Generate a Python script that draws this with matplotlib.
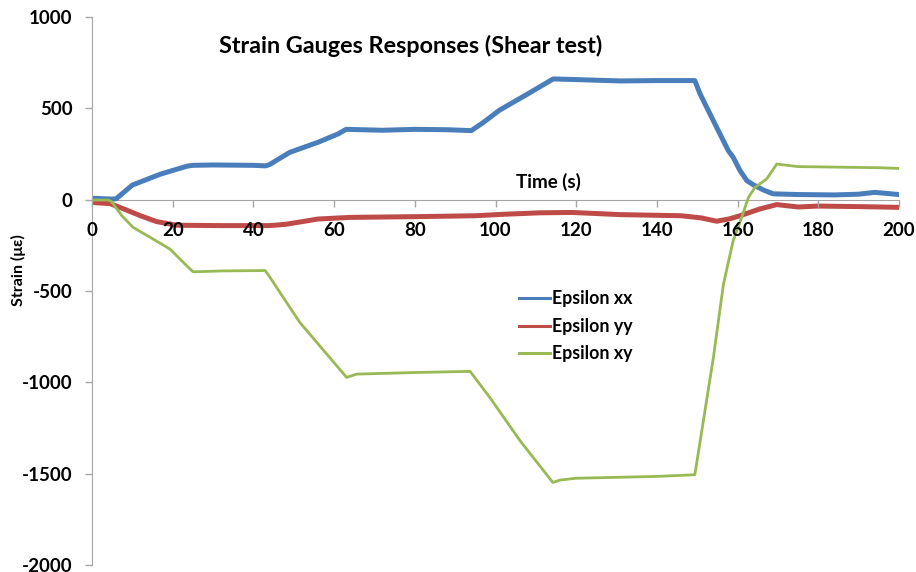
import matplotlib
matplotlib.use("Agg")
import matplotlib.pyplot as plt

plt.rcParams['font.family'] = ['Lato', 'DejaVu Sans']
plt.rcParams['font.weight'] = 'bold'

# ---- data ----
time_xx = [0, 5, 6, 10, 17, 23.5, 25, 30, 40, 43, 44, 49, 56, 61, 63, 72, 80, 88, 94, 97,
           101, 108, 114.3, 119, 131, 140, 149.4, 150.7, 154.8, 157.7, 158.9, 160.6, 162.3,
           164, 166.4, 168.8, 175, 184, 190, 194, 200]
eps_xx = [8, 3, 5, 80, 140, 183, 188, 190, 188, 185, 192, 259, 314, 360, 385, 380, 385, 383,
          378, 423, 490, 579, 661, 658, 650, 652, 652, 579, 396, 268, 232, 159, 104,
          80, 53, 32, 28, 26, 30, 40, 28]

time_yy = [0, 4.5, 7.8, 12, 16, 21, 32, 41, 44, 48, 56, 64, 80, 95, 102, 111, 119, 131, 146,
           151, 154.8, 158, 160.6, 165.5, 169.7, 175, 180, 190, 200]
eps_yy = [-15, -22, -50, -88, -120, -140, -142, -142, -142, -135, -106, -97, -93, -88, -80,
          -72, -70, -82, -88, -100, -118, -105, -88, -51, -27, -40, -35, -38, -42]

time_xy = [0, 4, 4.8, 7.4, 10.2, 14.4, 19.3, 24.3, 25.1, 32.5, 42.9, 44.1, 51.5, 63.1, 65.6,
           80.5, 93.7, 98.6, 106.1, 114.2, 116, 120, 130, 140, 149.4, 154, 156.5, 158.9, 161,
           162.7, 164.3, 167.2, 169.7, 175, 185, 195, 200]
eps_xy = [-2, -2, -10, -88, -152, -206, -270, -380, -395, -390, -388, -425, -672, -973, -955,
          -946, -940, -1083, -1320, -1548, -1535, -1525, -1520, -1515, -1506, -864, -462, -225,
          -97, 13, 67, 113, 195, 181, 178, 175, 171]

series_names = ['Epsilon xx', 'Epsilon yy', 'Epsilon xy']
x_ticks = [0, 20, 40, 60, 80, 100, 120, 140, 160, 180, 200]
y_ticks = [-2000, -1500, -1000, -500, 0, 500, 1000]

title = 'Strain Gauges Responses (Shear test)'
x_label = 'Time (s)'
y_label = 'Strain (με)'

# ---- figure ----
W, H = 916, 572
fig = plt.figure(figsize=(W / 100, H / 100), dpi=100)
ax = fig.add_axes([92 / W, 1 - 565 / H, (899 - 92) / W, (565 - 17) / H])

c_xx, c_yy, c_xy = '#4A7EBB', '#BE4B48', '#98B954'
ax.plot(time_xx, eps_xx, color=c_xx, lw=3.6, solid_joinstyle='round', label=series_names[0], zorder=2)
ax.plot(time_yy, eps_yy, color=c_yy, lw=3.6, solid_joinstyle='round', label=series_names[1], zorder=2)
ax.plot(time_xy, eps_xy, color=c_xy, lw=2.0, solid_joinstyle='round', label=series_names[2], zorder=2)

ax.set_xlim(0, 200)
ax.set_ylim(-2000, 1000)
ax.set_xticks(x_ticks, [str(v) for v in x_ticks])
ax.set_yticks(y_ticks, [str(v) for v in y_ticks])

grey = '#A6A6A6'
for s in ['top', 'right']:
    ax.spines[s].set_visible(False)
ax.spines['left'].set_color(grey)
ax.spines['bottom'].set_color(grey)
ax.spines['bottom'].set_position(('data', 0))
ax.spines['bottom'].set_zorder(1)
ax.tick_params(axis='both', direction='out', length=5, color=grey, width=1,
               labelsize=13.5, labelcolor='black')
ax.tick_params(axis='y', pad=9)
ax.tick_params(axis='x', pad=11)
ax.xaxis.set_zorder(5)
ax.yaxis.set_zorder(5)

ax.text(79, 843, title, fontsize=16.8, fontweight='bold', ha='center', va='center')
ax.text(113, 95, x_label, fontsize=13.5, fontweight='bold', ha='center', va='center', zorder=6)
fig.text(18 / W, 1 - 270 / H, y_label, fontsize=11.5, fontweight='bold', rotation=90,
         ha='center', va='center')

leg = ax.legend(loc='upper left', bbox_to_anchor=(512 / W, 1 - 283 / H),
                bbox_transform=fig.transFigure, frameon=False, fontsize=12.8,
                handlelength=1.75, handletextpad=0.1, labelspacing=0.6, borderaxespad=0)
for t in leg.get_texts():
    t.set_fontweight('bold')
for l in leg.get_lines():
    l.set_linewidth(2.2)

fig.savefig('out.png', dpi=100)
